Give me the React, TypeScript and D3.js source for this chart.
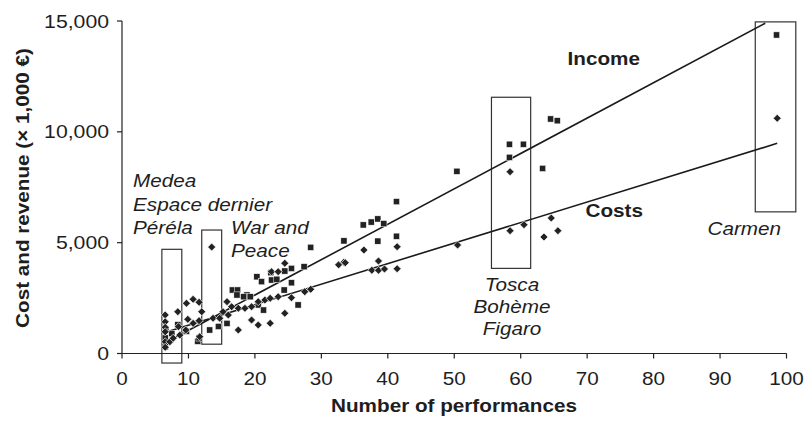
import React from "react";
import * as d3 from "d3";

// performances, income (x1000 €)
const incomePts: [number, number][] = [
  [6.5, 300], [6.5, 700], [6.6, 1100], [7.5, 900], [8.4, 1300], [9.7, 1000], [11.4, 550], [11.6, 700],
  [13.2, 1060], [14.5, 1220], [15.8, 1360],
  [16.6, 2864], [17.4, 2864], [17.3, 2640], [18.8, 2640], [18.3, 2560], [19.3, 2560], [20.5, 2190], [21.3, 1960],
  [20.3, 3460], [21, 3240], [22.4, 3645], [22.5, 3315], [23.3, 3350], [24.5, 3720], [25.5, 3840],
  [25.5, 3190], [24.4, 2864], [26.5, 2190], [27.4, 3915], [28.4, 4790], [33.4, 5080], [36.3, 5800],
  [37.5, 5930], [38.5, 6070], [39.4, 5860], [38.5, 5070], [41.3, 5290], [41.3, 6850], [50.4, 8220],
  [58.3, 9440], [60.4, 9440], [58.3, 8850], [63.3, 8350], [64.5, 10580], [65.5, 10500], [98.5, 14370],
];

// performances, costs (x1000 €)
const costPts: [number, number][] = [
  [6.5, 1740], [6.5, 1430], [6.5, 1180], [6.5, 980], [6.5, 530], [6.5, 280], [7.2, 530], [7.7, 690],
  [8.4, 1885], [8.5, 1210], [8.7, 830], [9.6, 1060], [9.7, 2264], [9.9, 1540], [10.7, 2445], [10.7, 1360],
  [11.6, 2310], [11.6, 1480], [11.7, 760], [12, 1885], [13.5, 4800], [13.7, 1590], [14.7, 1590],
  [15.2, 1885], [15.8, 2337], [16, 1737], [16.5, 2111], [17.5, 2039], [17.5, 1060], [18.5, 2039],
  [19.5, 2111], [19.5, 1511], [20.5, 2337], [20.5, 1286], [21.5, 2413], [22.3, 2490], [22.3, 1362],
  [22.5, 3690], [23.5, 3690], [23.5, 2562], [24.5, 4069], [24.5, 1813], [25.5, 2517], [27.5, 2788],
  [28.4, 2896], [32.6, 4000], [33.4, 4120], [33.6, 4096], [36.4, 4668], [37.6, 3753], [38.6, 3753],
  [38.6, 4172], [39.5, 3812], [41.4, 4818], [41.4, 3825], [50.5, 4894], [58.4, 8200], [58.4, 5540],
  [60.5, 5810], [64.6, 6110], [65.6, 5540], [63.5, 5255], [98.6, 10610],
];

const incomeTrend: [number, number][] = [[6.8, 530], [96.8, 14900]];
const costTrend: [number, number][] = [[6.8, 980], [98.6, 9480]];

const xTicks = [0, 10, 20, 30, 40, 50, 60, 70, 80, 90, 100];
const yTicks = [0, 5000, 10000, 15000];

// highlight boxes: [x0, x1, y0, y1] in data units
const boxes: [number, number, number, number][] = [
  [6.0, 9.0, -430, 4700],
  [12.0, 15.0, 420, 5570],
  [55.6, 61.5, 3840, 11560],
  [95.3, 101.4, 6390, 14960],
];

const FONT = "'Liberation Sans', Arial, Helvetica, sans-serif";
const SX = 1.15;

function T({ x, y, children, anchor = "start", weight = "normal", style = "normal", rotate = 0, size = 18, sx = SX }: any) {
  return (
    <text
      transform={`translate(${x},${y}) rotate(${rotate}) scale(${sx},1)`}
      textAnchor={anchor}
      fontWeight={weight}
      fontStyle={style}
      fontSize={size}
      fontFamily={FONT}
      fill="#1e1e1e"
    >
      {children}
    </text>
  );
}

export default function App() {
  const W = 806, H = 424;
  const x = d3.scaleLinear().domain([0, 100]).range([122, 786.5]);
  const y = d3.scaleLinear().domain([0, 15000]).range([353.5, 21]);
  const fmt = d3.format(",");
  const line = d3.line<[number, number]>().x((d) => x(d[0])).y((d) => y(d[1]));
  const sq = 6.2;
  const diamond = (cx: number, cy: number) => {
    const r = 4;
    return `M${cx},${cy - r}L${cx + r},${cy}L${cx},${cy + r}L${cx - r},${cy}Z`;
  };

  return (
    <svg width={W} height={H} style={{ position: "absolute", left: 0, top: 0, background: "#fff" }}>
      {/* boxes */}
      {boxes.map((b, i) => (
        <rect key={i} x={x(b[0])} y={y(b[3])} width={x(b[1]) - x(b[0])} height={y(b[2]) - y(b[3])}
          fill="none" stroke="#333" strokeWidth={1.2} />
      ))}
      {/* axes */}
      <line x1={x(0)} x2={x(100)} y1={y(0)} y2={y(0)} stroke="#222" strokeWidth={1.2} />
      <line x1={x(0)} x2={x(0)} y1={y(0)} y2={y(15000)} stroke="#222" strokeWidth={1.2} />
      {xTicks.map((t) => (
        <g key={t}>
          <line x1={x(t)} x2={x(t)} y1={y(0)} y2={y(0) + 5} stroke="#222" strokeWidth={1.2} />
          <T x={x(t)} y={y(0) + 31} anchor="middle">{String(t)}</T>
        </g>
      ))}
      {yTicks.map((t) => (
        <g key={t}>
          <line x1={x(0) - 5} x2={x(0)} y1={y(t)} y2={y(t)} stroke="#222" strokeWidth={1.2} />
          <T x={109} y={y(t) + 6.5} anchor="end" sx={1.18}>{fmt(t)}</T>
        </g>
      ))}
      <T x={454} y={412} anchor="middle" weight="bold">Number of performances</T>
      <T x={29} y={188} anchor="middle" weight="bold" rotate={-90}>Cost and revenue (× 1,000 €)</T>

      {/* trend lines */}
      <path d={line(incomeTrend) || ""} fill="none" stroke="#1a1a1a" strokeWidth={1.6} />
      <path d={line(costTrend) || ""} fill="none" stroke="#1a1a1a" strokeWidth={1.6} />

      {/* points */}
      {incomePts.map((p, i) => (
        <rect key={"i" + i} x={x(p[0]) - sq / 2} y={y(p[1]) - sq / 2} width={sq} height={sq}
          fill="#222" stroke="#fff" strokeWidth={0.5} />
      ))}
      {costPts.map((p, i) => (
        <path key={"c" + i} d={diamond(x(p[0]), y(p[1]))} fill="#222" stroke="#fff" strokeWidth={0.7} />
      ))}

      {/* annotations */}
      <T x={640} y={65} anchor="end" weight="bold">Income</T>
      <T x={643} y={217} anchor="end" weight="bold">Costs</T>
      <T x={133} y={187} style="italic">Medea</T>
      <T x={133} y={210.5} style="italic">Espace dernier</T>
      <T x={133} y={234} style="italic">Péréla</T>
      <T x={231} y={234} style="italic">War and</T>
      <T x={231} y={257} style="italic">Peace</T>
      <T x={512} y={291} anchor="middle" style="italic">Tosca</T>
      <T x={512} y={313} anchor="middle" style="italic">Bohème</T>
      <T x={512} y={335} anchor="middle" style="italic">Figaro</T>
      <T x={781} y={235} anchor="end" style="italic">Carmen</T>
    </svg>
  );
}
